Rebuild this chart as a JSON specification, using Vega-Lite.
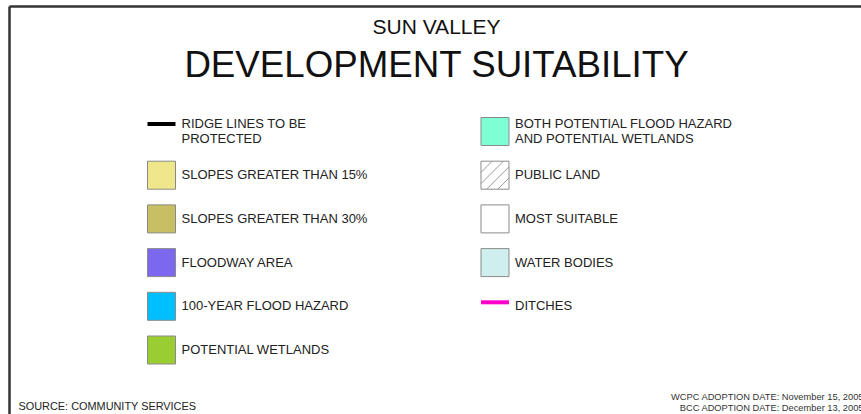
{
  "$schema": "https://vega.github.io/schema/vega-lite/v6.json",
  "width": 852,
  "height": 408,
  "autosize": {"type": "none"},
  "padding": {"left": 9, "top": 6, "right": 0, "bottom": 0},
  "background": "white",
  "title": {
    "text": "SUN VALLEY",
    "subtitle": "DEVELOPMENT SUITABILITY",
    "anchor": "middle",
    "dx": 1.5,
    "font": "Liberation Sans",
    "fontSize": 21,
    "fontWeight": "normal",
    "color": "#111111",
    "subtitleFont": "Liberation Sans",
    "subtitleFontSize": 36.7,
    "subtitleColor": "#111111",
    "subtitlePadding": 10,
    "offset": -79
  },
  "data": {
    "values": [
      {"col": 0, "row": 0, "label": "RIDGE LINES TO BE\nPROTECTED", "kind": "line"},
      {"col": 0, "row": 1, "label": "SLOPES GREATER THAN 15%", "kind": "fill"},
      {"col": 0, "row": 2, "label": "SLOPES GREATER THAN 30%", "kind": "fill"},
      {"col": 0, "row": 3, "label": "FLOODWAY AREA", "kind": "fill"},
      {"col": 0, "row": 4, "label": "100-YEAR FLOOD HAZARD", "kind": "fill"},
      {"col": 0, "row": 5, "label": "POTENTIAL WETLANDS", "kind": "fill"},
      {"col": 1, "row": 0, "label": "BOTH POTENTIAL FLOOD HAZARD\nAND POTENTIAL WETLANDS", "kind": "fill"},
      {"col": 1, "row": 1, "label": "PUBLIC LAND", "kind": "hatch"},
      {"col": 1, "row": 2, "label": "MOST SUITABLE", "kind": "fill"},
      {"col": 1, "row": 3, "label": "WATER BODIES", "kind": "fill"},
      {"col": 1, "row": 4, "label": "DITCHES", "kind": "line"}
    ]
  },
  "resolve": {"axis": {"x": "independent", "y": "independent"}},
  "layer": [
    {
      "transform": [{"filter": "datum.kind != 'line'"}],
      "mark": {"type": "point", "shape": "square", "size": 784, "filled": true, "opacity": 1, "stroke": "#8a8a8a", "strokeWidth": 1},
      "encoding": {
        "x": {"field": "col", "type": "quantitative", "scale": {"domain": [-0.4573, 2.0975], "nice": false, "zero": false},
              "axis": {"orient": "top", "domain": true, "domainColor": "#333333", "domainWidth": 2.5, "ticks": false, "labels": false, "grid": false, "title": null}},
        "y": {"field": "row", "type": "quantitative", "scale": {"domain": [-2.8719, 6.4645], "reverse": true, "nice": false, "zero": false},
              "axis": {"orient": "left", "domain": true, "domainColor": "#333333", "domainWidth": 2.5, "ticks": false, "labels": false, "grid": false, "title": null}},
        "color": {"field": "label", "type": "nominal", "legend": null,
          "scale": {
            "domain": ["RIDGE LINES TO BE\nPROTECTED", "SLOPES GREATER THAN 15%", "SLOPES GREATER THAN 30%", "FLOODWAY AREA", "100-YEAR FLOOD HAZARD", "POTENTIAL WETLANDS", "BOTH POTENTIAL FLOOD HAZARD\nAND POTENTIAL WETLANDS", "PUBLIC LAND", "MOST SUITABLE", "WATER BODIES", "DITCHES"],
            "range": ["#000000", "#F0E68C", "#C8BE64", "#7B68EE", "#00BFFF", "#9ACD32", "#7FFFD4", "#FFFFFF", "#FFFFFF", "#CFEFEF", "#FF00CC"]
          }}
      }
    },
    {
      "transform": [{"filter": "datum.kind == 'hatch'"}],
      "mark": {"type": "point", "shape": "M -1 -0.2 L -0.2 -1 M -1 0.6 L 0.6 -1 M -0.6 1 L 1 -0.6 M 0.2 1 L 1 0.2", "size": 784, "filled": false, "opacity": 1, "stroke": "#9a9a9a", "strokeWidth": 1},
      "encoding": {
        "x": {"field": "col", "type": "quantitative", "axis": null},
        "y": {"field": "row", "type": "quantitative", "axis": null}
      }
    },
    {
      "transform": [{"filter": "datum.kind == 'line' && datum.row == 0"}],
      "mark": {"type": "rule", "strokeWidth": 4, "xOffset": -14, "x2Offset": 14, "yOffset": -7.5},
      "encoding": {
        "x": {"field": "col", "type": "quantitative", "axis": null},
        "x2": {"field": "col"},
        "y": {"field": "row", "type": "quantitative", "axis": null},
        "color": {"field": "label", "type": "nominal", "legend": null}
      }
    },
    {
      "transform": [{"filter": "datum.kind == 'line' && datum.row != 0"}],
      "mark": {"type": "rule", "strokeWidth": 4, "xOffset": -14, "x2Offset": 14, "yOffset": -4},
      "encoding": {
        "x": {"field": "col", "type": "quantitative", "axis": null},
        "x2": {"field": "col"},
        "y": {"field": "row", "type": "quantitative", "axis": null},
        "color": {"field": "label", "type": "nominal", "legend": null}
      }
    },
    {
      "transform": [{"filter": "datum.row == 0"}],
      "mark": {"type": "text", "align": "left", "baseline": "middle", "dx": 20, "dy": -7.5, "font": "Liberation Sans", "fontSize": 13, "lineBreak": "\n", "lineHeight": 15, "color": "#222222"},
      "encoding": {
        "x": {"field": "col", "type": "quantitative", "axis": null},
        "y": {"field": "row", "type": "quantitative", "axis": null},
        "text": {"field": "label", "type": "nominal"}
      }
    },
    {
      "transform": [{"filter": "datum.row != 0"}],
      "mark": {"type": "text", "align": "left", "baseline": "middle", "dx": 20, "font": "Liberation Sans", "fontSize": 13, "lineBreak": "\n", "lineHeight": 15, "color": "#222222"},
      "encoding": {
        "x": {"field": "col", "type": "quantitative",
              "axis": {"orient": "bottom", "domain": false, "ticks": false, "labels": false, "grid": false,
                       "title": "SOURCE:  COMMUNITY SERVICES", "titleX": 9, "titleY": -5, "titleAlign": "left", "titleBaseline": "alphabetic",
                       "titleFont": "Liberation Sans", "titleFontSize": 10.9, "titleFontWeight": "normal", "titleColor": "#222222"}},
        "y": {"field": "row", "type": "quantitative",
              "axis": {"orient": "right", "domain": false, "ticks": false, "labels": false, "grid": false,
                       "title": ["WCPC ADOPTION DATE: November 15, 2005", "BCC ADOPTION DATE: December 13, 2005"],
                       "titleAngle": 0, "titleX": 2, "titleY": 393.5, "titleAlign": "right", "titleBaseline": "alphabetic",
                       "titleLineHeight": 11, "titleFont": "Liberation Sans", "titleFontSize": 9.3, "titleFontWeight": "normal", "titleColor": "#333333"}},
        "text": {"field": "label", "type": "nominal"}
      }
    }
  ],
  "config": {"view": {"stroke": null}, "font": "Liberation Sans"}
}
